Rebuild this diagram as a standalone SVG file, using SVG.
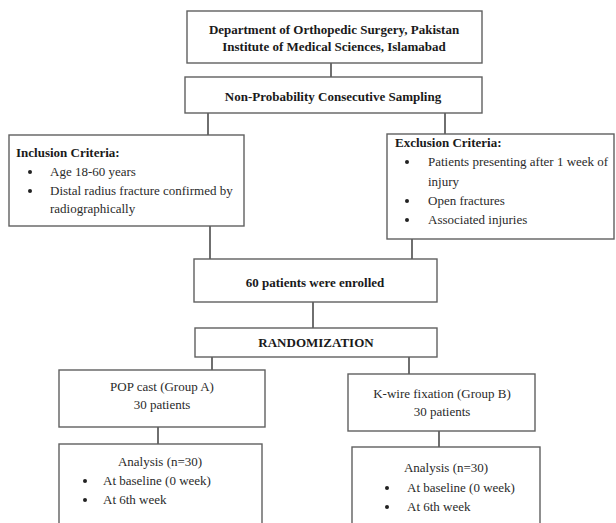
<svg xmlns="http://www.w3.org/2000/svg" width="616" height="523" viewBox="0 0 616 523">
<style>
.box{fill:#fff;stroke:#606060;stroke-width:1.4}
.con line{stroke:#333;stroke-width:1.4}
text{font-family:"Liberation Serif","Times New Roman",serif;font-size:13px;fill:#2a2a2a}
.b{font-weight:bold;font-size:13px;fill:#1a1a1a}
.c{text-anchor:middle}
.dot{fill:#222}
</style>
<rect width="616" height="523" fill="#fff"/>
<g class="con">
<line x1="331" y1="63" x2="331" y2="77"/>
<line x1="208" y1="113" x2="208" y2="135"/>
<line x1="445" y1="113" x2="445" y2="134"/>
<line x1="210" y1="226" x2="210" y2="259"/>
<line x1="412" y1="239" x2="412" y2="259"/>
<line x1="313" y1="302" x2="313" y2="328"/>
<line x1="212" y1="357" x2="212" y2="370"/>
<line x1="409" y1="357" x2="409" y2="374"/>
<line x1="158" y1="427" x2="158" y2="444"/>
<line x1="439" y1="431" x2="439" y2="447"/>
</g>
<g id="dept">
<rect class="box" x="187" y="11" width="295" height="52"/>
<text class="b c" x="334" y="34">Department of Orthopedic Surgery, Pakistan</text>
<text class="b c" x="334" y="51">Institute of Medical Sciences, Islamabad</text>
</g>
<g id="sampling">
<rect class="box" x="185" y="77" width="297" height="36"/>
<text class="b c" x="333" y="101">Non-Probability Consecutive Sampling</text>
</g>
<g id="inclusion">
<rect class="box" x="9" y="135" width="235" height="91"/>
<text class="b" x="16" y="157">Inclusion Criteria:</text>
<circle class="dot" cx="30" cy="172" r="2"/>
<text x="50" y="176">Age 18-60 years</text>
<circle class="dot" cx="30" cy="191" r="2"/>
<text x="50" y="195">Distal radius fracture confirmed by</text>
<text x="50" y="213">radiographically</text>
</g>
<g id="exclusion">
<rect class="box" x="387" y="134" width="227" height="105"/>
<text class="b" x="395" y="147">Exclusion Criteria:</text>
<circle class="dot" cx="407" cy="162" r="2"/>
<text x="428" y="166">Patients presenting after 1 week of</text>
<text x="428" y="186">injury</text>
<circle class="dot" cx="407" cy="201" r="2"/>
<text x="428" y="205">Open fractures</text>
<circle class="dot" cx="407" cy="220" r="2"/>
<text x="428" y="224">Associated injuries</text>
</g>
<g id="enrolled">
<rect class="box" x="194" y="259" width="243" height="43"/>
<text class="b c" x="315" y="287">60 patients were enrolled</text>
</g>
<g id="randomization">
<rect class="box" x="195" y="328" width="242" height="29"/>
<text class="b c" x="316" y="347">RANDOMIZATION</text>
</g>
<g id="groupA">
<rect class="box" x="59" y="370" width="206" height="57"/>
<text class="c" x="162" y="391">POP cast (Group A)</text>
<text class="c" x="162" y="409">30 patients</text>
</g>
<g id="groupB">
<rect class="box" x="348" y="374" width="187" height="57"/>
<text class="c" x="442" y="398">K-wire fixation (Group B)</text>
<text class="c" x="442" y="416">30 patients</text>
</g>
<g id="analysisA">
<rect class="box" x="59" y="444" width="203" height="90"/>
<text class="c" x="160" y="466">Analysis (n=30)</text>
<circle class="dot" cx="85" cy="481" r="2"/>
<text x="103" y="485">At baseline (0 week)</text>
<circle class="dot" cx="85" cy="500" r="2"/>
<text x="103" y="504">At 6th week</text>
</g>
<g id="analysisB">
<rect class="box" x="352" y="447" width="188" height="90"/>
<text class="c" x="446" y="472">Analysis (n=30)</text>
<circle class="dot" cx="387" cy="488" r="2"/>
<text x="407" y="492">At baseline (0 week)</text>
<circle class="dot" cx="387" cy="507" r="2"/>
<text x="407" y="511">At 6th week</text>
</g>
</svg>
